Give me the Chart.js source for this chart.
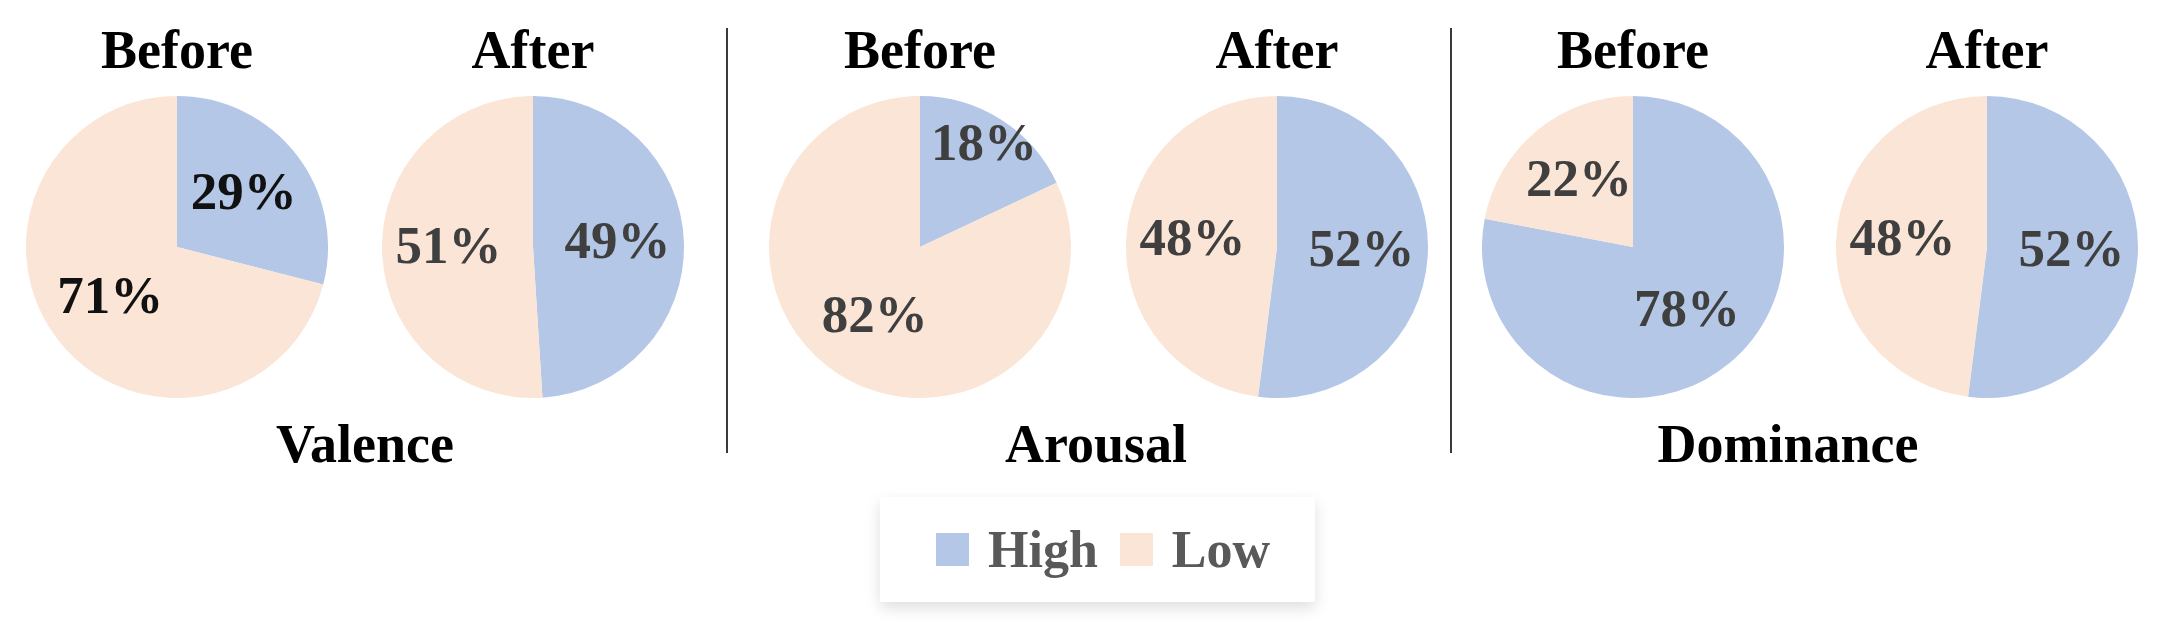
<!DOCTYPE html>
<html>
<head>
<meta charset="utf-8">
<script src="https://cdn.jsdelivr.net/npm/chart.js@4.4.0/dist/chart.umd.min.js"></script>
<style>
  html, body { margin: 0; padding: 0; background: #fff; }
  body { width: 2166px; height: 631px; position: relative; overflow: hidden;
         font-family: 'Liberation Serif', 'Times New Roman', serif; }
  .pie { position: absolute; top: 96px; width: 302px; height: 302px; }
  .txt { position: absolute; width: 400px; margin-left: -200px; text-align: center;
         font-weight: bold; font-size: 54px; line-height: 54px; color: #000; white-space: nowrap; }
  .sep { position: absolute; top: 28px; width: 2px; height: 425px; background: #3a3a3a; }
  #legend { position: absolute; left: 880px; top: 497px; width: 435px; height: 105px;
            background: #fff; box-shadow: 0 6px 14px rgba(0,0,0,0.13);
            display: flex; align-items: center; padding-left: 56px; box-sizing: border-box; }
  .item { display: flex; align-items: center; margin-right: 22px; }
  .box { width: 33px; height: 33px; margin-right: 19px; }
  .lab { font-weight: bold; font-size: 52px; line-height: 52px; color: #595959; }
</style>
</head>
<body>
<div id="legend"></div>
<script>
const categories = ['High', 'Low'];
const groups = ['Valence', 'Arousal', 'Dominance'];
const phases = ['Before', 'After'];
// one entry per pie: Valence before/after, Arousal before/after, Dominance before/after
const highValues = [29, 49, 18, 52, 78, 52];
const lowValues = [71, 51, 82, 48, 22, 48];

const seriesColors = ['#B4C7E7', '#FBE5D6'];
const labelColors = ['#111111', '#3f3f3f', '#3f3f3f', '#3f3f3f', '#3f3f3f', '#3f3f3f'];

// layout
const pieCenters = [177, 533, 920, 1277, 1633, 1987];
const groupCenters = [365, 1096, 1788];
const separators = [727, 1451];

Chart.defaults.font.family = "'Liberation Serif', 'Times New Roman', serif";

const percentLabels = {
    id: 'percentLabels',
    afterDatasetsDraw(chart, args, opts) {
        const {ctx} = chart;
        const meta = chart.getDatasetMeta(0);
        const values = chart.data.datasets[0].data;
        const total = values.reduce((a, b) => a + b, 0);
        ctx.save();
        ctx.font = 'bold 53px ' + Chart.defaults.font.family;
        ctx.fillStyle = opts.color;
        ctx.textAlign = 'center';
        ctx.textBaseline = 'middle';
        meta.data.forEach((arc, i) => {
            const {x, y, startAngle, endAngle, outerRadius} =
                arc.getProps(['x', 'y', 'startAngle', 'endAngle', 'outerRadius'], true);
            const mid = (startAngle + endAngle) / 2;
            // small slices push their label outwards, like Excel's best fit
            const r = outerRadius * (values[i] / total < 0.2 ? 0.79 : 0.56);
            ctx.fillText(values[i] + '%', x + Math.cos(mid) * r, y + Math.sin(mid) * r);
        });
        ctx.restore();
    }
};

function addText(cls, text, left, top) {
    const el = document.createElement('div');
    el.className = cls;
    el.style.left = left + 'px';
    el.style.top = top + 'px';
    el.textContent = text;
    document.body.appendChild(el);
    return el;
}

pieCenters.forEach((cx, i) => {
    const canvas = document.createElement('canvas');
    canvas.width = 302;
    canvas.height = 302;
    canvas.className = 'pie';
    canvas.style.left = (cx - 151) + 'px';
    document.body.appendChild(canvas);

    addText('txt', phases[i % 2], cx, 23);

    new Chart(canvas.getContext('2d'), {
        type: 'pie',
        data: {
            labels: categories,
            datasets: [{
                data: [highValues[i], lowValues[i]],
                backgroundColor: seriesColors,
                borderWidth: 0
            }]
        },
        plugins: [percentLabels],
        options: {
            responsive: false,
            animation: false,
            layout: {padding: 0},
            plugins: {
                legend: {display: false},
                tooltip: {enabled: false},
                percentLabels: {color: labelColors[i]}
            }
        }
    });
});

groups.forEach((name, i) => addText('txt', name, groupCenters[i], 417));

separators.forEach(x => {
    const el = document.createElement('div');
    el.className = 'sep';
    el.style.left = (x - 1) + 'px';
    document.body.appendChild(el);
});

const legend = document.getElementById('legend');
categories.forEach((name, i) => {
    const item = document.createElement('div');
    item.className = 'item';
    item.innerHTML = '<div class="box" style="background:' + seriesColors[i] + '"></div>' +
        '<span class="lab">' + name + '</span>';
    legend.appendChild(item);
});
</script>
</body>
</html>
